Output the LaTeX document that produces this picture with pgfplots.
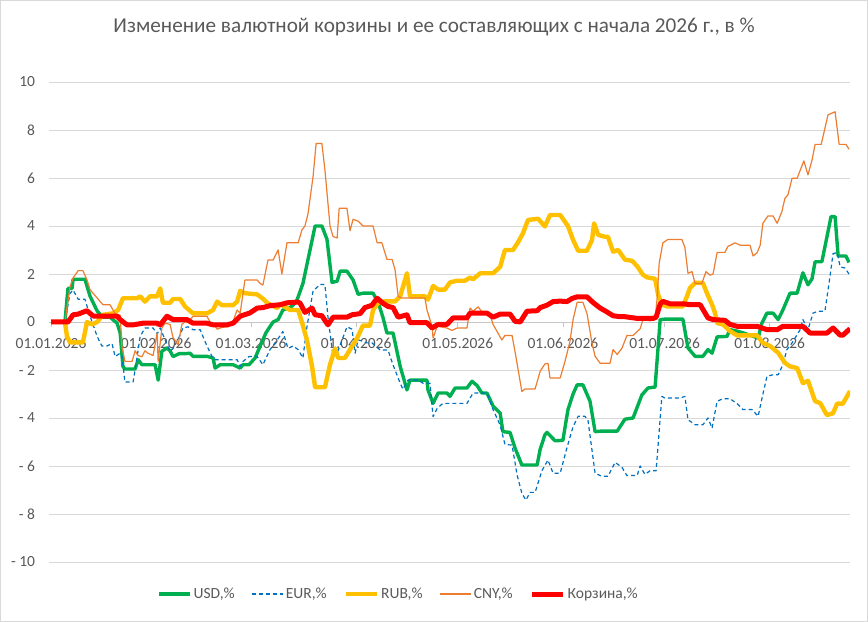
\documentclass[border=0pt]{standalone}
\usepackage{fontspec}
\setmainfont{Carlito}
\usepackage{pgfplots}
\pgfplotsset{compat=1.18}
\pgfplotsset{layers/mylayers/.define layer set={axis background,axis grid,axis ticks,axis lines,main,axis tick labels,axis descriptions,axis foreground}{}}
\definecolor{txtgray}{HTML}{595959}
\definecolor{gridgray}{HTML}{D9D9D9}
\definecolor{usdc}{HTML}{00B050}
\definecolor{eurc}{HTML}{0070C0}
\definecolor{rubc}{HTML}{FFC000}
\definecolor{cnyc}{HTML}{ED7D31}
\definecolor{basc}{HTML}{FF0000}
\begin{document}
\begin{tikzpicture}
\begin{axis}[
  name=ax,
  set layers=mylayers,
  scale only axis,
  width=801bp, height=480bp,
  xmin=-0.6, xmax=235.7,
  ymin=-10, ymax=10,
  axis x line=middle,
  axis y line=left,
  x axis line style={draw=gridgray!80!gray, line width=0.75bp, -},
  y axis line style={draw=none},
  hide obscured x ticks=false,
  hide obscured y ticks=false,
  xtick={0,31,59,90,120,151,181,212},
  xticklabels={01.01.2026,01.02.2026,01.03.2026,01.04.2026,01.05.2026,01.06.2026,01.07.2026,01.08.2026},
  ytick={-10,-8,-6,-4,-2,0,2,4,6,8,10},
  yticklabels={- 10,- 8,- 6,- 4,- 2,0,2,4,6,8,10},
  tick label style={font=\fontsize{15.5bp}{18bp}\selectfont, text=txtgray},
  xtick style={draw=gridgray!80!gray, line width=0.75bp},
  ytick style={draw=none},
  xtick align=outside,
  major tick length=5bp,
  ymajorgrids,
  grid style={draw=gridgray, line width=0.75bp},
  yticklabel style={xshift=-8bp},
  xticklabel style={yshift=-7.5bp},
  legend style={at={(0.1348,-0.0667)}, anchor=west, draw=none, fill=none, inner sep=0pt,
    font=\fontsize{15.5bp}{18bp}\selectfont, text=txtgray,
    /tikz/every even column/.append style={column sep=15bp}},
  legend columns=5,
  legend image code/.code={\draw[#1] (0bp,0bp) -- (31bp,0bp);},
  line join=round,
]
% USD
\addplot[usdc, line width=3.4bp] coordinates {
(0,0) (4.1,0) (5.0,1.4) (6.2,1.4) (6.5,1.78) (10.0,1.78) (11.5,1.08) (13.6,0.46) (15.3,0.2) (17.4,0.2)
(19.5,-0.05) (20.4,-0.46) (21.2,-1.85) (21.8,-1.96) (24.8,-1.96) (25.7,-1.57) (26.8,-1.78) (30.7,-1.78)
(31.6,-2.42) (32.7,-1.22) (34.2,-1.08) (35.1,-1.2) (36.0,-1.44) (37.8,-1.32) (39.5,-1.32) (41.0,-1.3)
(41.9,-1.43) (46.0,-1.43) (47.8,-1.5) (48.4,-1.92) (49.9,-1.78) (53.7,-1.78) (55.8,-1.92) (56.6,-1.78)
(58.4,-1.78) (60.2,-1.5) (61.7,-1.0) (63.4,-0.45) (65.5,0.0) (67.0,0.1) (68.4,0.5) (70.5,0.6) (71.4,0.7)
(72.6,0.93) (74.3,1.6) (76.4,3.0) (77.9,4.0) (79.9,4.0) (81.4,3.45) (82.9,1.65) (84.4,1.7) (85.3,2.12)
(87.3,2.12) (89.1,1.75) (90.6,1.15) (92.0,1.2) (95.0,1.2) (96.5,0.82) (97.9,0.2) (99.1,-0.46) (100.9,-0.46)
(103.0,-1.85) (105.0,-2.83) (105.9,-2.42) (110.9,-2.42) (111.2,-2.83) (112.7,-3.39) (114.2,-2.96)
(116.8,-2.96) (117.7,-3.1) (119.2,-2.75) (122.7,-2.75) (124.2,-2.47) (125.7,-2.65) (127.1,-2.96)
(128.6,-2.96) (130.4,-3.5) (132.5,-3.8) (133.3,-4.57) (135.4,-4.6) (136.9,-5.26) (138.9,-5.96)
(143.4,-5.96) (144.3,-5.3) (145.7,-4.7) (146.3,-4.6) (148.7,-4.95) (151.0,-4.93) (152.5,-3.65)
(154.0,-3.0) (155.2,-2.62) (156.9,-2.62) (159.0,-3.3) (160.5,-4.57) (162.0,-4.55) (167.0,-4.55)
(169.3,-4.05) (171.7,-4.0) (174.3,-3.04) (176.1,-2.75) (178.2,-2.71) (179.7,0.1) (181.1,0.12)
(186.4,0.12) (187.9,-1.08) (190.0,-1.43) (192.3,-1.43) (193.8,-1.15) (195.0,-1.3) (196.5,-0.62)
(199.4,-0.6) (200.3,-0.32) (202.4,-0.38) (204.1,-0.45) (208.6,-0.67) (209.7,-0.05) (211.2,0.37)
(213.0,0.37) (214.5,0.1) (215.9,0.5) (218.0,1.2) (220.1,1.2) (221.8,2.05) (223.3,1.55) (224.5,1.8)
(225.4,2.51) (227.4,2.51) (228.9,3.55) (230.1,4.39) (231.3,4.39) (232.2,2.75) (234.5,2.75) (235.4,2.48)
};
\addlegendentry{USD,\%}
% EUR
\addplot[eurc, line width=1.2bp, dash pattern=on 4bp off 3bp] coordinates {
(0,0) (4.1,0) (5.6,1.2) (6.5,1.33) (8.0,0.95) (10.0,0.95) (11.5,0.25) (13.6,-0.6) (15.0,-1.0) (16.5,-1.0)
(18.0,-0.9) (18.9,-1.44) (20.4,-1.3) (20.9,-1.4) (21.8,-2.5) (24.2,-2.5) (24.8,-2.0) (26.3,-0.6)
(27.7,-0.25) (30.1,-0.25) (31.3,-0.5) (32.2,-0.25) (33.6,-0.73) (35.1,-1.22) (36.0,-1.1) (37.5,-0.73)
(38.9,-0.25) (40.4,-0.2) (41.9,-0.32) (44.0,-0.32) (44.8,-0.6) (46.0,-1.0) (47.5,-1.44) (48.4,-1.57)
(54.9,-1.57) (55.8,-1.85) (56.6,-1.65) (58.4,-1.44) (60.8,-1.44) (62.5,-1.78) (64.6,-1.15) (66.7,-0.75)
(68.4,-0.4) (69.9,-1.1) (71.4,-1.0) (72.9,-1.15) (74.3,-1.5) (75.5,-0.2) (77.3,1.3) (79.4,1.56)
(80.8,1.56) (81.7,0.2) (83.2,-1.44) (84.4,-1.3) (87.3,-0.2) (88.8,-0.3) (89.7,-1.3) (90.6,-0.74)
(93.2,-0.87) (94.7,-0.87) (97.1,-1.17) (99.4,-1.17) (100.9,-1.79) (103.0,-2.55) (103.8,-2.8) (105.3,-2.42)
(108.3,-2.42) (109.7,-2.55) (111.8,-2.55) (112.7,-3.94) (113.9,-3.6) (115.6,-3.39) (122.7,-3.39)
(124.5,-2.96) (128.6,-2.96) (130.4,-3.65) (132.5,-4.3) (133.9,-5.1) (136.0,-5.13) (137.5,-6.38)
(138.9,-7.14) (140.1,-7.42) (141.3,-7.1) (142.8,-7.1) (144.8,-6.2) (146.6,-5.75) (148.1,-6.3)
(150.2,-6.3) (152.2,-5.24) (154.0,-4.36) (155.5,-3.93) (157.5,-3.93) (158.4,-4.1) (160.5,-6.3)
(162.5,-6.43) (164.3,-6.43) (166.4,-5.85) (168.4,-6.05) (169.9,-6.4) (172.9,-6.4) (173.8,-6.0)
(175.2,-6.35) (176.7,-6.2) (178.5,-6.2) (180.2,-3.1) (181.1,-3.17) (185.6,-3.17) (187.0,-3.1)
(187.9,-4.07) (190.0,-4.28) (192.3,-4.28) (193.8,-4.0) (195.0,-4.42) (196.5,-3.3) (198.2,-3.2)
(200.3,-3.2) (202.4,-3.4) (204.1,-3.65) (206.8,-3.65) (208.6,-3.93) (209.7,-3.2) (211.2,-2.26)
(213.0,-2.2) (214.5,-2.2) (215.9,-1.78) (217.1,-1.15) (218.6,-0.87) (221.0,-0.32) (221.8,0.1)
(223.3,-0.32) (224.8,0.37) (226.3,0.45) (228.3,0.45) (229.8,1.9) (230.7,2.85) (231.9,2.89)
(232.8,2.3) (234.2,2.25) (235.4,2.0)
};
\addlegendentry{EUR,\%}
% RUB
\addplot[rubc, line width=4.4bp] coordinates {
(0,0) (4.1,0) (4.7,-0.6) (5.6,-0.85) (9.4,-0.85) (10.6,0.0) (12.1,-0.1) (13.6,0.0) (15.3,0.3)
(18.3,0.36) (19.8,0.5) (21.2,0.99) (25.4,0.99) (26.3,1.07) (27.7,0.85) (29.2,1.07) (31.3,1.07)
(32.2,1.4) (33.0,0.8) (35.1,0.8) (36.0,0.96) (38.1,0.96) (39.5,0.65) (41.9,0.36) (46.0,0.36)
(47.8,0.5) (49.0,0.85) (50.4,0.7) (53.7,0.7) (54.9,0.85) (55.8,1.3) (57.2,1.2) (60.8,1.15)
(62.5,0.97) (63.7,0.8) (66.7,0.58) (67.6,0.75) (70.5,0.5) (72.9,0.5) (74.0,0.0) (75.5,-0.75)
(77.0,-1.85) (77.9,-2.72) (80.8,-2.72) (82.3,-1.78) (83.8,-1.1) (84.7,-1.5) (86.7,-1.5) (88.2,-1.15)
(90.3,-0.67) (92.0,-0.15) (94.1,-0.15) (95.0,0.5) (96.5,0.8) (98.5,0.86) (101.5,0.86) (103.0,1.07)
(105.0,2.03) (105.9,1.07) (110.3,1.07) (111.2,0.93) (112.7,1.5) (114.2,1.35) (116.2,1.35) (117.7,1.65)
(119.8,1.72) (122.1,1.72) (123.6,1.85) (124.5,1.78) (126.6,2.03) (130.4,2.03) (132.5,2.3) (133.9,3.0)
(136.3,3.0) (137.8,3.33) (139.2,3.69) (140.7,4.25) (143.7,4.3) (145.7,3.98) (147.2,4.46) (150.2,4.46)
(152.5,4.0) (154.0,3.42) (155.5,2.97) (158.1,2.97) (159.6,3.42) (160.2,4.11) (161.4,3.63) (163.4,3.55)
(164.3,3.55) (165.8,2.93) (167.3,3.0) (169.3,2.6) (171.4,2.55) (172.9,2.33) (174.6,1.97) (175.8,1.86)
(178.2,1.8) (179.1,1.13) (180.2,0.72) (181.7,0.65) (186.4,0.65) (187.6,1.07) (188.5,1.42) (190.0,1.63)
(192.3,1.63) (193.5,1.2) (195.0,0.72) (195.9,0.37) (196.5,-0.04) (198.2,-0.1) (200.3,-0.38)
(202.4,-0.56) (208.3,-0.56) (210.0,-0.87) (212.1,-1.0) (214.5,-1.28) (216.5,-1.7) (218.0,-1.85)
(220.1,-1.92) (221.8,-2.55) (223.3,-2.45) (225.4,-3.3) (226.9,-3.38) (228.9,-3.88) (230.7,-3.8)
(231.9,-3.4) (233.6,-3.4) (235.7,-2.88)
};
\addlegendentry{RUB,\%}
% CNY
\addplot[cnyc, line width=1.2bp] coordinates {
(0,0) (4.1,0) (5.6,1.47) (6.5,1.83) (8.0,2.14) (9.4,2.14) (10.6,1.76) (11.5,1.35) (13.6,1.0) (15.3,0.72)
(17.4,0.72) (18.9,0.35) (20.4,0.28) (20.9,-1.0) (21.8,-1.64) (23.9,-1.64) (24.8,-1.2) (25.7,-1.4)
(26.8,-1.45) (27.7,-1.2) (28.6,-1.3) (30.1,-1.4) (31.3,-0.46) (31.6,-1.64) (32.7,-0.25) (33.6,-0.05)
(35.1,-0.1) (36.0,-0.65) (37.5,-0.95) (38.6,-0.1) (39.5,0.0) (40.4,0.0) (41.9,0.24) (46.0,0.24)
(46.9,0.0) (47.8,-0.05) (49.0,-0.3) (49.9,-0.25) (51.4,-0.2) (52.2,-0.2) (53.7,0.03) (54.9,0.5)
(55.8,0.37) (57.2,1.75) (60.8,1.75) (61.7,1.6) (62.5,1.54) (64.0,2.58) (65.5,2.58) (67.0,3.0)
(68.1,2.0) (69.6,3.3) (72.9,3.3) (74.0,3.83) (74.9,4.0) (75.8,4.5) (77.3,6.06) (78.2,7.44) (79.9,7.44)
(80.8,6.33) (82.3,4.0) (83.2,3.56) (84.4,3.5) (85.0,4.74) (87.3,4.74) (88.2,3.8) (89.1,4.28) (90.6,4.2)
(92.0,4.0) (95.0,4.0) (96.2,3.3) (97.6,3.3) (99.1,2.61) (100.6,2.61) (101.5,2.17) (102.4,1.06)
(103.5,1.0) (110.3,1.0) (110.9,0.5) (112.4,-0.18) (112.7,-0.67) (113.9,-0.18) (116.8,-0.25)
(118.3,-0.35) (119.8,-0.25) (122.7,-0.25) (123.6,0.58) (124.5,0.45) (126.0,0.63) (127.4,0.37)
(129.5,0.3) (130.4,-0.1) (131.6,-0.4) (133.0,-0.75) (133.9,-0.56) (136.0,-0.56) (136.9,-1.25)
(138.9,-2.9) (139.8,-2.79) (142.8,-2.79) (144.3,-2.05) (145.7,-1.75) (146.6,-1.72) (147.2,-2.33)
(150.2,-2.33) (151.6,-1.65) (153.1,-0.8) (154.0,0.1) (155.2,0.82) (156.9,0.82) (158.1,0.36)
(159.6,-0.89) (160.5,-1.43) (162.0,-1.72) (164.9,-1.72) (165.8,-1.15) (167.0,-1.35) (168.4,-1.1)
(169.9,-0.56) (171.7,-0.56) (173.8,-0.28) (174.6,0.1) (176.7,0.05) (178.2,0.1) (178.8,1.0)
(179.4,2.44) (180.5,3.3) (182.0,3.44) (186.1,3.44) (187.0,3.1) (187.9,2.03) (189.1,2.1) (190.0,1.6)
(192.0,1.6) (193.2,2.1) (194.4,1.95) (195.3,2.0) (196.5,2.9) (198.8,2.9) (199.7,3.15) (201.8,3.3)
(203.3,3.2) (206.2,3.2) (207.1,2.75) (208.3,2.89) (209.2,3.2) (210.0,4.11) (211.5,4.42) (213.0,4.42)
(214.2,4.11) (215.6,4.6) (216.5,5.15) (217.4,5.3) (218.6,5.99) (220.1,5.99) (221.5,6.5) (222.1,6.71)
(223.3,6.13) (224.5,6.75) (225.4,7.4) (227.2,7.4) (228.3,8.07) (229.2,8.63) (231.3,8.76) (232.5,7.4)
(234.5,7.4) (235.4,7.2)
};
\addlegendentry{CNY,\%}
% Basket
\addplot[basc, line width=5bp] coordinates {
(0,0) (5.0,0) (6.5,0.3) (8.0,0.33) (10.6,0.47) (12.4,0.25) (19.5,0.24) (20.4,0.1) (22.4,-0.12)
(24.2,-0.12) (27.1,-0.05) (31.3,-0.05) (32.2,-0.12) (34.2,0.24) (36.0,0.1) (40.1,0.1) (41.9,-0.05)
(46.0,-0.05) (47.8,-0.12) (51.9,-0.12) (53.7,-0.05) (55.8,0.24) (58.7,0.38) (60.8,0.58) (62.5,0.6)
(64.6,0.68) (67.6,0.72) (69.6,0.8) (72.9,0.83) (73.5,0.78) (74.9,0.4) (77.0,0.58) (77.9,0.3)
(79.9,0.26) (81.7,-0.12) (83.2,0.2) (87.3,0.2) (88.8,0.3) (91.2,0.35) (92.6,0.6) (94.7,0.7)
(96.2,0.99) (97.9,0.78) (99.4,0.65) (100.9,0.6) (102.4,0.2) (105.0,0.3) (105.9,-0.03) (110.9,-0.03)
(112.4,-0.25) (114.2,-0.1) (116.8,-0.1) (118.6,0.17) (122.7,0.17) (123.6,0.37) (128.6,0.37)
(130.4,0.2) (132.5,0.33) (135.4,0.33) (136.9,0.03) (138.4,0.0) (140.4,0.45) (143.4,0.47) (144.3,0.6)
(146.3,0.7) (148.1,0.85) (150.2,0.87) (152.2,0.85) (153.7,0.98) (155.2,1.05) (158.1,1.05) (160.0,0.8)
(162.0,0.58) (163.4,0.47) (165.8,0.26) (167.9,0.22) (169.3,0.22) (172.9,0.15) (177.6,0.15)
(178.5,0.2) (179.7,0.75) (180.5,0.86) (182.6,0.76) (186.4,0.76) (188.5,0.72) (191.5,0.72)
(193.8,0.17) (195.3,0.1) (198.8,0.07) (200.3,-0.1) (202.4,-0.18) (208.3,-0.18) (211.2,-0.32)
(214.2,-0.32) (215.9,-0.18) (221.8,-0.18) (223.9,-0.46) (228.9,-0.46) (230.7,-0.25) (232.8,-0.55)
(233.6,-0.55) (235.7,-0.28)
};
\addlegendentry{Корзина,\%}
\end{axis}
\node[font=\fontsize{21.2bp}{25bp}\selectfont, text=txtgray] at ([xshift=385bp,yshift=55bp]ax.north west)
  {Изменение валютной корзины и ее составляющих с начала 2026 г., в \%};
\draw[gridgray, line width=1bp] ([xshift=-48.5bp,yshift=-59.5bp]ax.south west) rectangle ([xshift=17.5bp,yshift=81.5bp]ax.north east);
\pgfresetboundingbox
\path[use as bounding box] ([xshift=-49bp,yshift=-60bp]ax.south west) rectangle ([xshift=18bp,yshift=82bp]ax.north east);
\end{tikzpicture}
\end{document}
